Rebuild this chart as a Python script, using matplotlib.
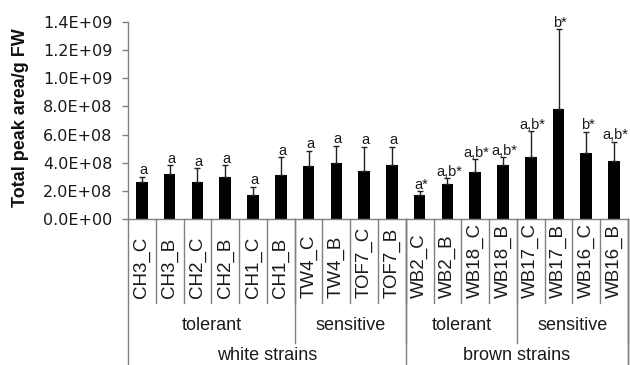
import matplotlib
matplotlib.use("Agg")
import matplotlib.pyplot as plt
import matplotlib.transforms as mtransforms
import numpy as np

plt.rcParams['font.family'] = ['Liberation Sans', 'DejaVu Sans']

# Samples (C / B), grouped by sensitivity and strain colour
samples = ["CH3_C", "CH3_B", "CH2_C", "CH2_B", "CH1_C", "CH1_B",
           "TW4_C", "TW4_B", "TOF7_C", "TOF7_B",
           "WB2_C", "WB2_B", "WB18_C", "WB18_B",
           "WB17_C", "WB17_B", "WB16_C", "WB16_B"]
means = [2.60e8, 3.22e8, 2.60e8, 3.01e8, 1.74e8, 3.10e8,
         3.76e8, 3.95e8, 3.43e8, 3.83e8,
         1.72e8, 2.48e8, 3.31e8, 3.86e8,
         4.38e8, 7.83e8, 4.72e8, 4.09e8]
sds = [0.40e8, 0.61e8, 1.00e8, 0.82e8, 0.56e8, 1.28e8,
       1.10e8, 1.26e8, 1.71e8, 1.31e8,
       0.24e8, 0.40e8, 0.93e8, 0.52e8,
       1.86e8, 5.65e8, 1.49e8, 1.41e8]
letters = ["a", "a", "a", "a", "a", "a",
           "a", "a", "a", "a",
           "a*", "a,b*", "a,b*", "a,b*",
           "a,b*", "b*", "b*", "a,b*"]

# Second level: (label, first index, last index)
subgroups = [("tolerant", 0, 5), ("sensitive", 6, 9),
             ("tolerant", 10, 13), ("sensitive", 14, 17)]
# Third level
groups = [("white strains", 0, 9), ("brown strains", 10, 17)]

yticks = np.arange(0, 1.41e9, 2e8)

W, H = 630, 365
fig = plt.figure(figsize=(W / 100, H / 100), dpi=100)
ax_l, ax_r, ax_t, ax_b = 128, 628, 22, 219
ax = fig.add_axes([ax_l / W, 1 - ax_b / H, (ax_r - ax_l) / W, (ax_b - ax_t) / H])

x = np.arange(len(samples))
ax.bar(x, means, width=0.42, color="black", zorder=2)
ax.errorbar(x, means, yerr=[np.zeros(len(sds)), sds], fmt="none",
            ecolor="#222222", elinewidth=1.0, capsize=2.3, capthick=1.0, zorder=3)

for xi, m, s, lab in zip(x, means, sds, letters):
    ax.annotate(lab, (xi, m + s), xytext=(1, -0.5), textcoords="offset points",
                ha="center", va="bottom", fontsize=10.5, color="#1a1a1a")

ax.set_xlim(-0.5, len(samples) - 0.5)
ax.set_ylim(0, 1.4e9)
ax.set_yticks(yticks)
ax.set_yticklabels([f"{v:.1E}" for v in yticks], family="DejaVu Sans")
ax.tick_params(axis="y", direction="out", length=4, width=1, color="#808080",
               pad=7, labelsize=11.5, labelcolor="#1a1a1a")
ax.set_xticks([])
for side in ("top", "right"):
    ax.spines[side].set_visible(False)
for side in ("left", "bottom"):
    ax.spines[side].set_color("#808080")
    ax.spines[side].set_linewidth(1)

# Multi-level category axis drawn below the plot
trans = mtransforms.blended_transform_factory(ax.transData, ax.transAxes)
hpx = ax_b - ax_t


def ypos(py):
    return (ax_b - py) / hpx


line_kw = dict(color="#808080", lw=1, transform=trans, clip_on=False)
bottom = ypos(H + 2)

# left edge running to the bottom
ax.plot([-0.5, -0.5], [0, bottom], **line_kw)

# sample separators
for b in range(1, len(samples)):
    ax.plot([b - 0.5, b - 0.5], [0, ypos(303)], **line_kw)
ax.plot([len(samples) - 0.5] * 2, [0, bottom], **line_kw)

for xi, name in zip(x, samples):
    ax.text(xi, ypos(298), name, rotation=90, ha="center", va="bottom",
            fontsize=13.5, color="#1a1a1a", transform=trans)

for name, i0, i1 in subgroups:
    ax.plot([i1 + 0.5, i1 + 0.5], [0, ypos(343)], **line_kw)
    ax.text((i0 + i1) / 2, ypos(326), name, ha="center", va="center",
            fontsize=13, color="#1a1a1a", transform=trans)

for name, i0, i1 in groups:
    ax.plot([i1 + 0.5, i1 + 0.5], [0, bottom], **line_kw)
    ax.text((i0 + i1) / 2, ypos(356), name, ha="center", va="center",
            fontsize=13, color="#1a1a1a", transform=trans)

fig.text(21 / W, 1 - 118 / H, "Total peak area/g FW", rotation=90,
         ha="center", va="center", fontsize=13, fontweight="bold",
         color="#111111")

fig.savefig("out.png", dpi=100, facecolor="white")
